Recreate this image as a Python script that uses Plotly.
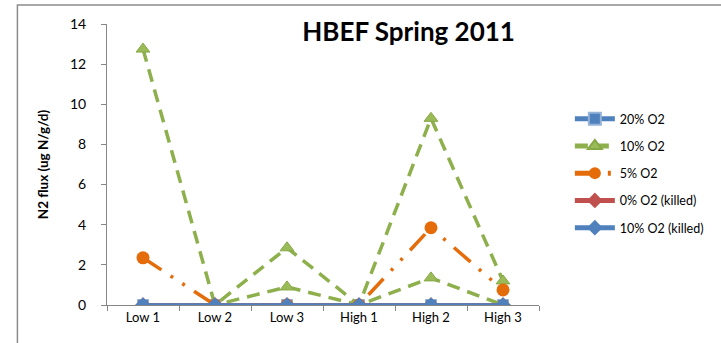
import plotly.graph_objects as go

categories = ["Low 1", "Low 2", "Low 3", "High 1", "High 2", "High 3"]
o2_20 = [0, 0, 0, 0, 0, 0]
o2_10 = [12.75, 0, 2.85, 0, 9.3, 1.2]
o2_10_rep = [0, 0, 0.9, 0, 1.35, 0]
o2_5 = [2.35, 0, 0, 0, 3.85, 0.75]
o2_0_killed = [0, 0, 0, 0, 0, 0]
o2_10_killed = [0, 0, 0, 0, 0, 0]

green = "#8DB04C"
green_mk = "#9BBB59"
orange = "#E46C0A"
blue = "#4F81BD"
red = "#C0504D"

fig = go.Figure()
fig.add_trace(go.Scatter(x=categories, y=o2_20, name="20% O2", legendgroup="a",
    mode="lines+markers", line=dict(color=blue, width=3.5),
    marker=dict(symbol="square", size=11, color=blue, line=dict(color="#95B3D7", width=1))))
fig.add_trace(go.Scatter(x=categories, y=o2_10, name="10% O2", legendgroup="b",
    mode="lines+markers", line=dict(color=green, width=3.5, dash="13px,8px"),
    marker=dict(symbol="triangle-up", size=12, color=green_mk, line=dict(color="#86A845", width=1))))
fig.add_trace(go.Scatter(x=categories, y=o2_10_rep, name="10% O2", legendgroup="b", showlegend=False,
    mode="lines+markers", line=dict(color=green, width=3.5, dash="13px,8px"),
    marker=dict(symbol="triangle-up", size=12, color=green_mk, line=dict(color="#86A845", width=1))))
fig.add_trace(go.Scatter(x=categories, y=o2_5, name="5% O2", legendgroup="c",
    mode="lines+markers", line=dict(color=orange, width=3.5, dash="22px,11px,3px,11px,3px,11px"),
    marker=dict(symbol="circle", size=13, color=orange)))
fig.add_trace(go.Scatter(x=categories, y=o2_0_killed, name="0% O2 (killed)", legendgroup="d",
    mode="lines+markers", line=dict(color=red, width=3.5),
    marker=dict(symbol="diamond", size=12, color=red)))
fig.add_trace(go.Scatter(x=categories, y=o2_10_killed, name="10% O2 (killed)", legendgroup="e",
    mode="lines+markers", line=dict(color=blue, width=3.5),
    marker=dict(symbol="diamond", size=12, color=blue)))

L, R, T, B = 107, 541, 24, 305
W, H = 721, 343
pw, ph = R - L, B - T

def px(x):
    return (x - L) / pw

def py(y):
    return (B - y) / ph

fig.update_layout(
    width=W, height=H,
    margin=dict(l=L, r=W - R, t=T, b=H - B, pad=0),
    paper_bgcolor="white", plot_bgcolor="white",
    font=dict(family="Lato, Carlito, Calibri, sans-serif", color="#000000", size=12),
    title=dict(text="<b>HBEF Spring 2011</b>", font=dict(size=26, family="Lato, sans-serif"),
               x=px(410), xref="paper", xanchor="center", y=1 - 32 / H, yanchor="middle"),
    showlegend=True,
    legend=dict(x=px(572), xanchor="left", y=py(104), yanchor="top",
                font=dict(size=12.5), traceorder="grouped", tracegroupgap=8,
                bgcolor="rgba(0,0,0,0)", itemwidth=40, itemsizing="constant"),
    xaxis=dict(type="category", range=[-0.5, 5.5], showgrid=False, zeroline=False,
               showline=True, linecolor="#868686", linewidth=1,
               ticks="outside", tickson="boundaries", ticklen=5, tickcolor="#868686",
               tickfont=dict(size=13)),
    yaxis=dict(range=[0, 14], dtick=2, showgrid=False, zeroline=False,
               showline=True, linecolor="#868686", linewidth=1,
               ticks="outside", ticklen=5, tickcolor="#868686",
               tickfont=dict(size=14), ticklabelstandoff=12,
               title=dict(text="<b>N2 flux (ug N/g/d)</b>", font=dict(size=13.5), standoff=18)),
    shapes=[dict(type="rect", xref="paper", yref="paper",
                 x0=px(17), x1=px(760), y0=py(380), y1=py(5),
                 line=dict(color="#8C8C8C", width=1.5), fillcolor="rgba(0,0,0,0)", layer="below")],
)

fig.write_html("out.html", config={"displayModeBar": False},
               post_script="document.body.style.margin='0';")
